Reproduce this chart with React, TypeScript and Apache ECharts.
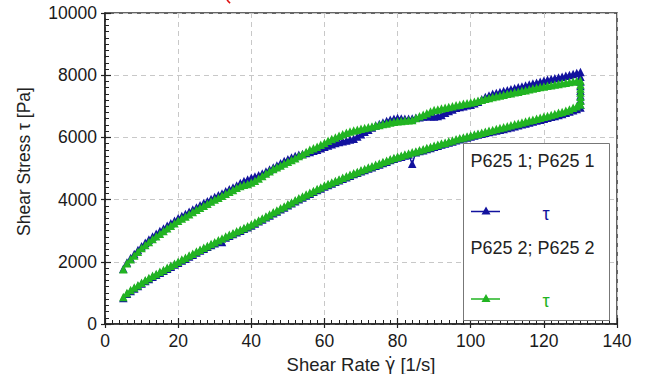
import React, { useEffect, useRef } from "react";
import * as echarts from "echarts";

const FONT = "'Liberation Sans', Arial, sans-serif";
const BLUE = "#12129e";
const GREEN = "#22b422";

// Shear rate [1/s] for each measured point (same grid for up and down ramps)
const shearRate = [
  5, 6, 7, 8, 9, 10, 11, 12, 13, 14, 15, 16, 17, 18, 19, 20,
  21, 22, 23, 24, 25, 26, 27, 28, 29, 30,
  31, 32, 33, 34, 35, 36, 37, 38, 39, 40,
  41, 42, 43, 44, 45, 46, 47, 48, 49, 50,
  51, 52, 53, 54, 55, 56, 57, 58, 59, 60,
  61, 62, 63, 64, 65, 66, 67, 68, 69, 70,
  71, 72, 73, 74, 75, 76, 77, 78, 79, 80,
  81, 82, 83, 84, 85, 86, 87, 88, 89, 90,
  91, 92, 93, 94, 95, 96, 97, 98, 99, 100,
  101, 102, 103, 104, 105, 106, 107, 108, 109, 110,
  111, 112, 113, 114, 115, 116, 117, 118, 119, 120,
  121, 122, 123, 124, 125, 126, 127, 128, 129, 130,
];

// P625 1 (blue): upper branch, by ascending shear rate
const blueUp = [
  1780, 1980, 2120, 2250, 2380, 2500, 2610, 2720, 2810, 2900, 2990, 3070, 3160, 3240, 3320, 3400,
  3470, 3540, 3610, 3680, 3750, 3820, 3890, 3950, 4020, 4080,
  4140, 4200, 4270, 4330, 4390, 4450, 4530, 4600, 4650, 4700,
  4740, 4780, 4840, 4900, 4970, 5030, 5100, 5170, 5240, 5300,
  5350, 5400, 5440, 5470, 5500, 5530, 5570, 5600, 5650, 5700,
  5740, 5780, 5820, 5850, 5880, 5900, 5930, 5960, 6030, 6100,
  6180, 6250, 6320, 6380, 6430, 6480, 6530, 6570, 6600, 6620,
  6610, 6600, 6600, 6610, 6630, 6650, 6670, 6680, 6680, 6670,
  6690, 6720, 6790, 6850, 6900, 6950, 6980, 7000, 7030, 7050,
  7100, 7150, 7230, 7300, 7350, 7400, 7430, 7460, 7490, 7520,
  7550, 7580, 7610, 7640, 7670, 7700, 7730, 7760, 7790, 7820,
  7850, 7880, 7900, 7930, 7950, 7980, 8010, 8040, 8070, 8100,
];
// P625 1 (blue): lower branch, by ascending shear rate
const blueDown = [
  840, 970, 1060, 1140, 1220, 1300, 1380, 1450, 1520, 1580, 1650, 1710, 1780, 1840, 1910, 1970,
  2040, 2100, 2170, 2230, 2300, 2360, 2420, 2480, 2540, 2600,
  2660, 2640, 2780, 2840, 2890, 2950, 3000, 3060, 3110, 3170,
  3230, 3300, 3360, 3430, 3490, 3560, 3620, 3690, 3750, 3820,
  3880, 3950, 4010, 4070, 4130, 4190, 4250, 4310, 4360, 4420,
  4470, 4520, 4570, 4620, 4670, 4720, 4770, 4820, 4860, 4910,
  4950, 5000, 5040, 5090, 5130, 5180, 5220, 5270, 5310, 5350,
  5380, 5420, 5450, 5150, 5520, 5560, 5590, 5630, 5660, 5700,
  5730, 5770, 5800, 5840, 5870, 5910, 5940, 5970, 6000, 6030,
  6060, 6090, 6120, 6150, 6170, 6200, 6220, 6250, 6270, 6300,
  6330, 6360, 6390, 6420, 6450, 6480, 6510, 6540, 6570, 6600,
  6630, 6660, 6690, 6720, 6750, 6790, 6830, 6870, 6910, 6960,
];
// P625 2 (green): upper branch, by ascending shear rate
const greenUp = [
  1760, 1950, 2080, 2200, 2320, 2440, 2540, 2640, 2730, 2820, 2900, 2990, 3080, 3160, 3240, 3320,
  3390, 3460, 3530, 3600, 3670, 3740, 3800, 3870, 3940, 4000,
  4060, 4120, 4190, 4250, 4310, 4380, 4440, 4480, 4500, 4550,
  4610, 4680, 4760, 4840, 4910, 4980, 5040, 5100, 5160, 5220,
  5270, 5330, 5400, 5460, 5530, 5600, 5650, 5700, 5760, 5820,
  5890, 5950, 6000, 6050, 6100, 6150, 6190, 6220, 6250, 6280,
  6300, 6330, 6350, 6380, 6400, 6430, 6450, 6480, 6500, 6520,
  6530, 6540, 6550, 6560, 6620, 6680, 6730, 6780, 6830, 6880,
  6900, 6930, 6950, 6980, 7000, 7030, 7050, 7080, 7100, 7120,
  7150, 7180, 7210, 7240, 7270, 7300, 7320, 7350, 7370, 7400,
  7420, 7450, 7470, 7500, 7520, 7550, 7570, 7600, 7620, 7640,
  7660, 7680, 7700, 7720, 7740, 7760, 7780, 7800, 7810, 7830,
];
// P625 2 (green): lower branch, by ascending shear rate
const greenDown = [
  870, 1000, 1090, 1170, 1250, 1330, 1410, 1480, 1550, 1610, 1680, 1740, 1810, 1870, 1940, 2000,
  2070, 2130, 2200, 2260, 2330, 2390, 2450, 2510, 2570, 2630,
  2690, 2750, 2810, 2870, 2920, 2980, 3030, 3090, 3140, 3200,
  3260, 3330, 3390, 3460, 3520, 3590, 3650, 3720, 3780, 3850,
  3910, 3980, 4040, 4100, 4160, 4220, 4280, 4340, 4390, 4450,
  4500, 4550, 4600, 4650, 4700, 4750, 4800, 4850, 4890, 4940,
  4980, 5030, 5070, 5120, 5160, 5210, 5250, 5300, 5340, 5380,
  5410, 5450, 5480, 5520, 5550, 5590, 5620, 5660, 5690, 5730,
  5760, 5800, 5830, 5870, 5900, 5940, 5970, 6000, 6030, 6060,
  6090, 6120, 6150, 6180, 6210, 6240, 6270, 6300, 6330, 6360,
  6390, 6420, 6450, 6480, 6510, 6540, 6570, 6600, 6630, 6660,
  6690, 6720, 6750, 6790, 6820, 6860, 6900, 6950, 7000, 7060,
];
// Points recorded at the top shear rate between the two branches
const holdRate = 130;
const blueHold = [7950, 7800, 7650, 7500, 7350, 7200, 7050];
const greenHold = [7700, 7570, 7440, 7310, 7180];

const xTicks = [0, 20, 40, 60, 80, 100, 120, 140];
const yTicks = [0, 2000, 4000, 6000, 8000, 10000];
const legendNames = ["P625 1; P625 1", "P625 2; P625 2"];
const legendSymbol = "τ";

function loop(up: number[], hold: number[], down: number[]) {
  const pts: number[][] = [];
  shearRate.forEach((x, i) => pts.push([x, up[i]]));
  hold.forEach((v) => pts.push([holdRate, v]));
  for (let i = shearRate.length - 1; i >= 0; i--) pts.push([shearRate[i], down[i]]);
  return pts;
}

function legendEntry(y: number, name: string, color: string) {
  const ly = y + 51;
  return [
    {
      type: "text", x: 470.5, y, z: 101,
      style: { text: name, font: `18px ${FONT}`, fill: "#222", verticalAlign: "middle" },
    },
    {
      type: "line", z: 101, shape: { x1: 471, y1: ly, x2: 500, y2: ly },
      style: { stroke: color, lineWidth: 1.5 },
    },
    {
      type: "polygon", z: 102,
      shape: { points: [[486, ly - 5], [490.5, ly + 3], [481.5, ly + 3]] },
      style: { fill: color },
    },
    {
      type: "text", x: 546, y: ly + 2, z: 101,
      style: { text: legendSymbol, font: `18px ${FONT}`, fill: color, align: "center", verticalAlign: "middle" },
    },
  ];
}

export default function App() {
  const ref = useRef<HTMLDivElement>(null);
  useEffect(() => {
    const chart = echarts.init(ref.current!, null, { renderer: "svg" });
    const axisCommon = {
      axisLine: { show: true, onZero: false, lineStyle: { color: "#222", width: 1.5 } },
      axisTick: { show: true, inside: true, length: 6, lineStyle: { color: "#222", width: 1.2 } },
      minorTick: { show: true, splitNumber: 10, length: 4, lineStyle: { color: "#222", width: 1 } },
      splitLine: { show: true, lineStyle: { color: "#c8c8c8", type: [5, 4], width: 1 } },
      axisLabel: { fontFamily: FONT, fontSize: 17.5, color: "#1a1a1a", formatter: (v: number) => String(v) },
    };
    const outerTicks = {
      axisLine: { show: false },
      axisTick: { show: true, inside: false, length: 4, lineStyle: { color: "#222", width: 1.2 } },
      axisLabel: { show: false },
      splitLine: { show: false },
      minorTick: { show: false },
    };
    chart.setOption({
      animation: false,
      backgroundColor: "#fff",
      grid: {
        left: 105, right: 34, top: 13, bottom: 50,
        outerBoundsMode: "none", containLabel: false,
        show: true, borderColor: "#333", borderWidth: 1.5, backgroundColor: "transparent",
      },
      xAxis: [
        {
          type: "value", min: xTicks[0], max: xTicks[xTicks.length - 1], interval: 20,
          name: "Shear Rate {g|γ̇} [1/s]", nameLocation: "middle", nameGap: 29,
          nameTextStyle: {
            fontFamily: FONT, fontSize: 18.5, color: "#222",
            rich: { g: { fontFamily: "'DejaVu Sans'", fontSize: 17, color: "#222" } },
          },
          ...axisCommon,
          axisLabel: { ...axisCommon.axisLabel, margin: 8 },
        },
        {
          type: "value", min: xTicks[0], max: xTicks[xTicks.length - 1], interval: 20,
          position: "bottom", ...outerTicks,
        },
      ],
      yAxis: [
        {
          type: "value", min: yTicks[0], max: yTicks[yTicks.length - 1], interval: 2000,
          name: "Shear Stress τ [Pa]", nameLocation: "middle", nameGap: 72,
          nameTextStyle: { fontFamily: FONT, fontSize: 17.5, color: "#222", padding: [0, 0, 0, 14] },
          ...axisCommon,
          axisLabel: { ...axisCommon.axisLabel, margin: 8 },
        },
        {
          type: "value", min: yTicks[0], max: yTicks[yTicks.length - 1], interval: 2000,
          position: "left", ...outerTicks,
        },
      ],
      series: [
        {
          name: legendNames[0], type: "line", data: loop(blueUp, blueHold, blueDown),
          symbol: "triangle", symbolSize: 8.5, showSymbol: true, showAllSymbol: true,
          itemStyle: { color: BLUE }, lineStyle: { color: BLUE, width: 1.5 }, z: 2,
        },
        {
          name: legendNames[1], type: "line", data: loop(greenUp, greenHold, greenDown),
          symbol: "triangle", symbolSize: 8.5, showSymbol: true, showAllSymbol: true,
          itemStyle: { color: GREEN }, lineStyle: { color: GREEN, width: 1.5 }, z: 3,
        },
      ],
      graphic: [
        {
          type: "arc", z: 100,
          shape: { cx: 236, cy: -5, r: 10, startAngle: Math.PI * 0.7, endAngle: Math.PI },
          style: { stroke: "#e01010", lineWidth: 1.6, fill: "none" },
        },
        {
          type: "rect", z: 100, shape: { x: 463.5, y: 143.5, width: 146, height: 177 },
          style: { fill: "#fff", stroke: "#777", lineWidth: 1 },
        },
        ...legendEntry(160.5, legendNames[0], BLUE),
        ...legendEntry(248, legendNames[1], GREEN),
      ],
    });
    return () => chart.dispose();
  }, []);
  return (
    <div
      ref={ref}
      style={{ position: "fixed", left: 0, top: 0, width: 651, height: 374, background: "#fff" }}
    />
  );
}
